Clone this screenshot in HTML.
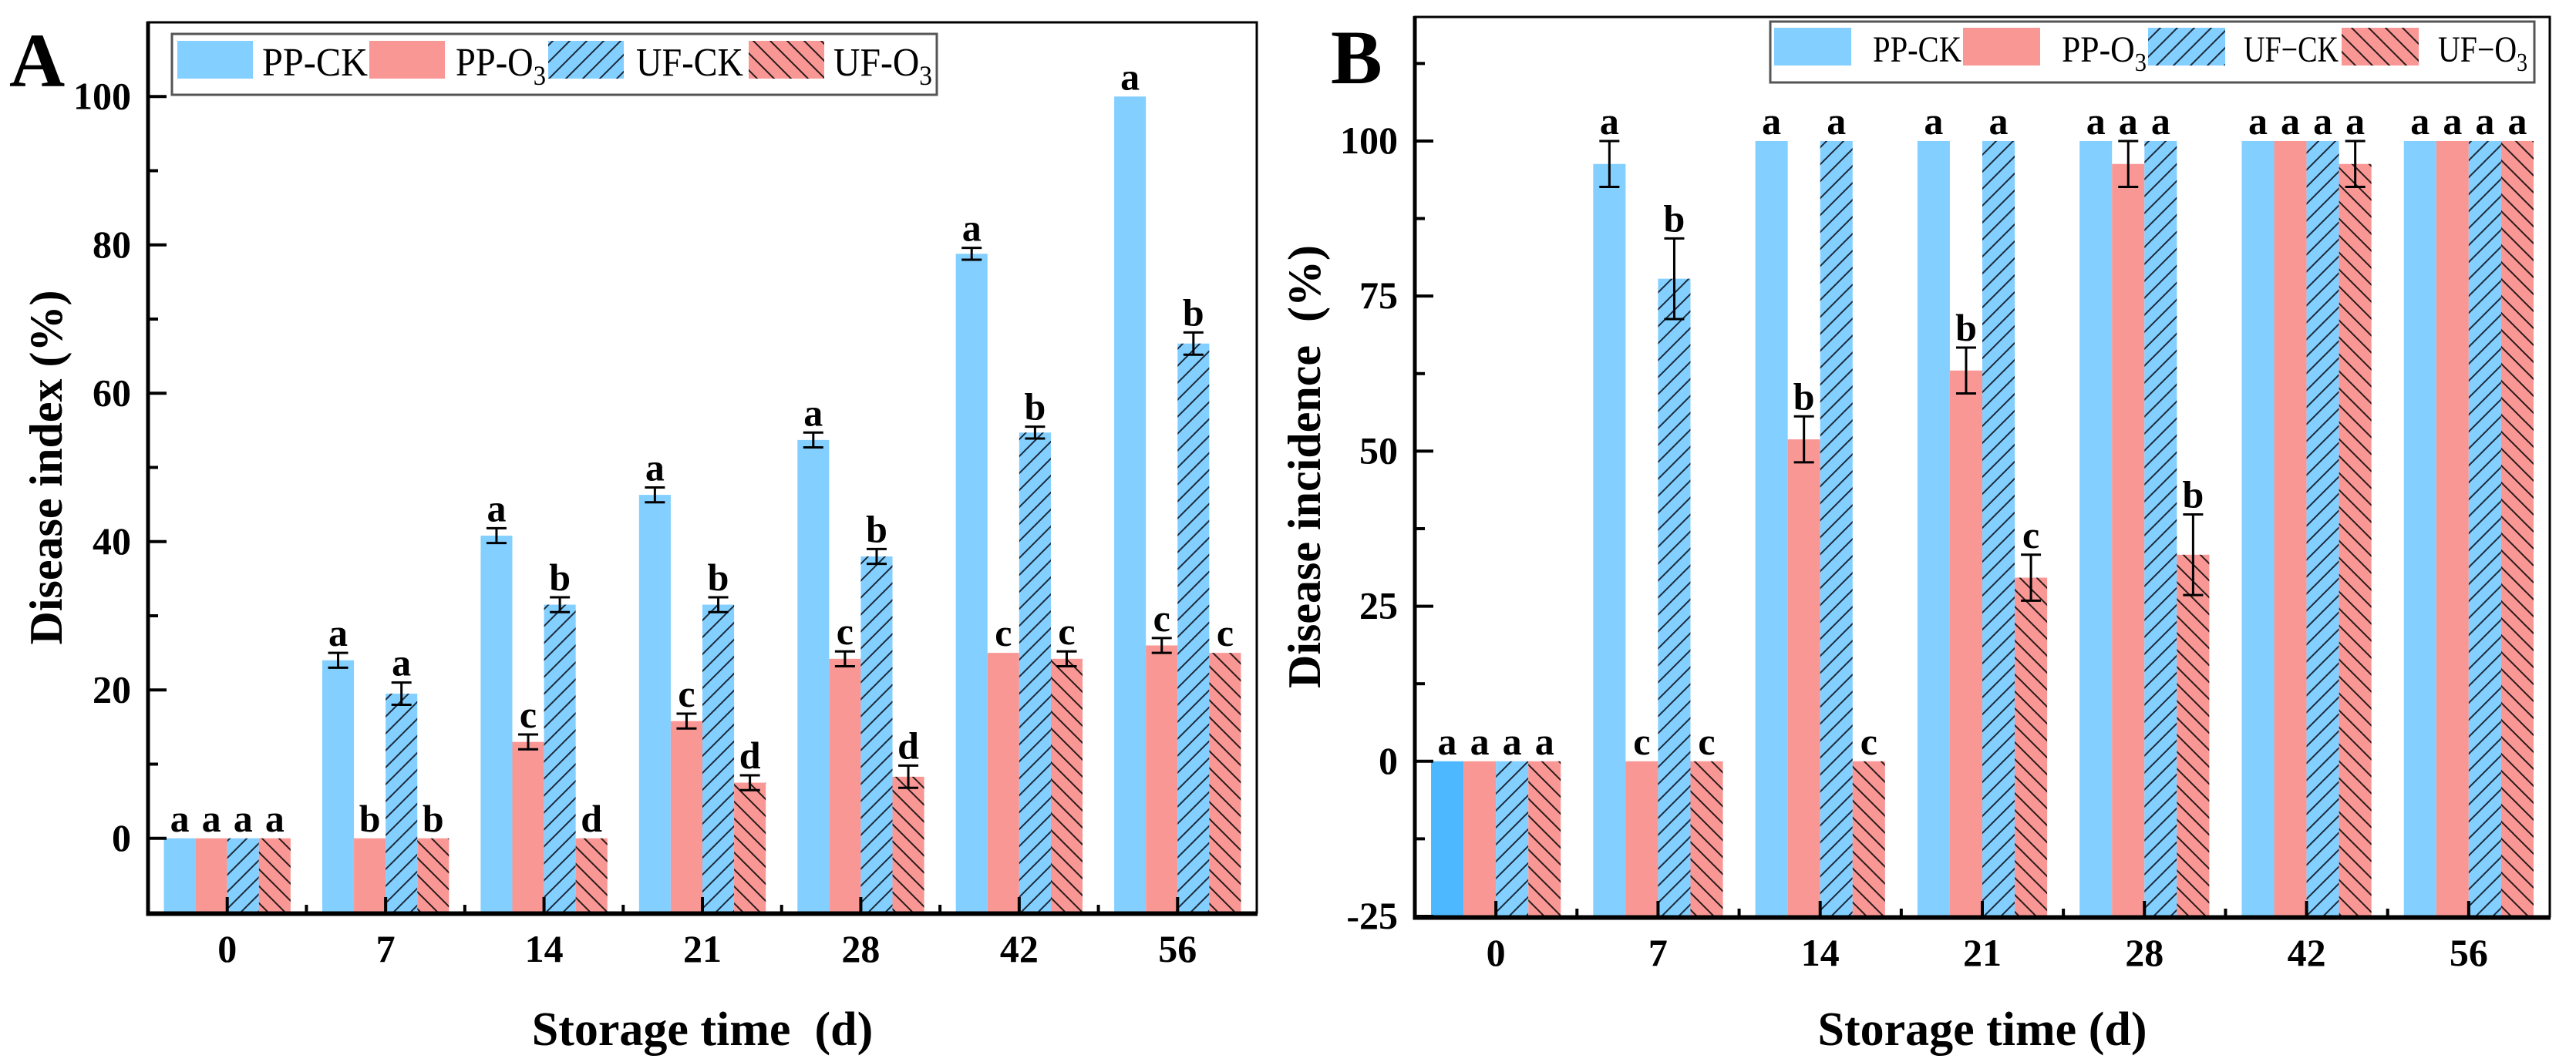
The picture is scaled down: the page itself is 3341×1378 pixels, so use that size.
<!DOCTYPE html>
<html><head><meta charset="utf-8"><style>
html,body{margin:0;padding:0;background:#fff;}
svg{display:block;font-family:"Liberation Serif",serif;}
</style></head><body>
<svg id="chart" width="3341" height="1378" viewBox="0 0 3341 1378" xmlns="http://www.w3.org/2000/svg">
<defs>
<pattern id="hatchF" patternUnits="userSpaceOnUse" width="22" height="22">
<rect width="22" height="22" fill="#83CFFF"/>
<path d="M-2,24 L24,-2 M-13,13 L13,-13 M9,35 L35,9" stroke="#1a2a3a" stroke-width="2"/>
</pattern>
<pattern id="hatchB" patternUnits="userSpaceOnUse" width="22" height="22">
<rect width="22" height="22" fill="#F99795"/>
<path d="M-2,-2 L24,24 M-13,9 L13,35 M9,-13 L35,13" stroke="#2a1a1a" stroke-width="2"/>
</pattern>
</defs>
<g id="root"></g>
</svg>
<script>
const categories = ["0","7","14","21","28","42","56"];
const seriesNames = ["PP-CK","PP-O3","UF-CK","UF-O3"];
// Panel A: disease index
const aPPCK = [0,24,40.8,46.3,53.7,78.8,100];
const aPPO3 = [0,0,13,15.8,24.2,25,26];
const aUFCK = [0,19.5,31.5,31.5,38,54.7,66.7];
const aUFO3 = [0,0,0,7.5,8.3,24.2,25];
const aErrPPCK = [0,1,1,1,1,0.8,0];
const aErrPPO3 = [0,0,1,1,1,0,1];
const aErrUFCK = [0,1.5,1,1,1,0.8,1.5];
const aErrUFO3 = [0,0,0,1,1.5,1,0];
const aLetPPCK = ["a","a","a","a","a","a","a"];
const aLetPPO3 = ["a","b","c","c","c","c","c"];
const aLetUFCK = ["a","a","b","b","b","b","b"];
const aLetUFO3 = ["a","b","d","d","d","c","c"];
const aTicks = [0,20,40,60,80,100];
// Panel B: disease incidence
const bPPCK = [0,96.3,100,100,100,100,100];
const bPPO3 = [0,0,51.9,63,96.3,100,100];
const bUFCK = [0,77.8,100,100,100,100,100];
const bUFO3 = [0,0,0,29.6,33.3,96.3,100];
const bErrPPCK = [0,3.7,0,0,0,0,0];
const bErrPPO3 = [0,0,3.7,3.7,3.7,0,0];
const bErrUFCK = [0,6.5,0,0,0,0,0];
const bErrUFO3 = [0,0,0,3.7,6.5,3.7,0];
const bLetPPCK = ["a","a","a","a","a","a","a"];
const bLetPPO3 = ["a","c","b","b","a","a","a"];
const bLetUFCK = ["a","b","a","a","a","a","a"];
const bLetUFO3 = ["a","c","c","c","b","a","a"];
const bTicks = [-25,0,25,50,75,100];

const NS="http://www.w3.org/2000/svg";
const root=document.getElementById('root');
function mk(tag,attrs,parent,text){
  const e=document.createElementNS(NS,tag);
  for(const k in attrs)e.setAttribute(k,attrs[k]);
  if(text!==undefined)e.textContent=text;
  (parent||root).appendChild(e);return e;
}
const fills=["#83CFFF","#F99795","url(#hatchF)","url(#hatchB)"];

function panel(cfg){
  const g=mk('g',{});
  
  
  const L=cfg.left,R=cfg.right,T=cfg.top,B=cfg.bottom;
  const yS=v=>B-(v-cfg.ymin)/(cfg.ymax-cfg.ymin)*(B-T);
  const band=(R-L)/categories.length;
  const xC=i=>L+band*(i+0.5);
  const bw=band*0.2;
  for(let s=0;s<4;s++){
    for(let i=0;i<categories.length;i++){
      const v=cfg.vals[s][i];
      const x=xC(i)-2*bw+s*bw;
      const y=yS(v);
      let f=fills[s];
      if(cfg.darkFirst&&s===0&&i===0)f="#4DB8FF";
      const r=mk('rect',{x:x,y:y,width:bw,height:B-y,fill:f},g);
      
      
      const e=cfg.errs[s][i];
      let top=y;
      if(e>0){
        const cx=x+bw/2,y1=yS(v+e),y2=yS(v-e);
        const eb=mk('path',{d:`M${cx-13},${y1}H${cx+13}M${cx},${y1}V${y2}M${cx-13},${y2}H${cx+13}`,stroke:'#000','stroke-width':3,fill:'none'},g);
        
        
        top=y1;
      }
      const t=mk('text',{x:x+bw/2,y:top-9,'text-anchor':'middle','font-size':50,'font-weight':'bold'},g,cfg.lets[s][i]);
      
      
    }
  }
  const fr=mk('rect',{x:L,y:T,width:R-L,height:B-T,fill:'none',stroke:'#000','stroke-width':3},g);
  
  
  mk('path',{d:`M${L},${T-1}V${B+2}H${R+1}`,stroke:'#000','stroke-width':5,fill:'none'},g);
  for(let k=0;k<cfg.ticks.length;k++){
    const v=cfg.ticks[k],y=yS(v);
    mk('path',{d:`M${L},${y}H${L+24}`,stroke:'#000','stroke-width':4},g);
    const t=mk('text',{x:L-22,y:y+16,'text-anchor':'end','font-size':50,'font-weight':'bold'},g,String(v));
    
    
  }
  const step=cfg.ticks[1]-cfg.ticks[0];
  for(let v=cfg.ticks[0]+step/2;v<cfg.ymax;v+=step){
    mk('path',{d:`M${L},${yS(v)}H${L+13}`,stroke:'#000','stroke-width':4},g);
  }
  for(let i=0;i<categories.length;i++){
    mk('path',{d:`M${xC(i)},${B}V${B-20}`,stroke:'#000','stroke-width':4},g);
    if(i>0)mk('path',{d:`M${L+band*i},${B}V${B-10}`,stroke:'#000','stroke-width':4},g);
    const t=mk('text',{x:xC(i),y:B+64,'text-anchor':'middle','font-size':50,'font-weight':'bold'},g,categories[i]);
    
    
  }
  const xt=mk('text',{x:(L+R)/2,y:1356,'text-anchor':'middle','font-size':62,'font-weight':'bold'},g,cfg.xtitle);
  
  
  const yt=mk('text',{x:0,y:0,'text-anchor':'middle','font-size':60,'font-weight':'bold',transform:`translate(${cfg.ytx},${(T+B)/2}) rotate(-90)`},g,cfg.ytitle);
  
  
  const pl=mk('text',{x:cfg.plx,y:cfg.ply,'font-size':100,'font-weight':'bold'},g,cfg.label);
  
  
  const lg=cfg.legend;
  const leg=mk('g',{},g);
  
  
  mk('rect',{x:lg.x,y:lg.y,width:lg.w,height:lg.h,fill:'#fff',stroke:'#555','stroke-width':3},leg);
  for(let s=0;s<4;s++){
    const ent=mk('g',{},leg);
    
    
    mk('rect',{x:lg.sx[s],y:lg.sy,width:lg.sw,height:lg.sh,fill:fills[s]},ent);
    const t=mk('text',{x:lg.tx[s],y:lg.ty,'font-size':lg.fs,textLength:lg.tw[s],lengthAdjust:'spacingAndGlyphs'},ent);
    const nm=cfg.legNames[s];
    if(nm.endsWith('O3')){
      mk('tspan',{},t,nm.slice(0,-1));
      mk('tspan',{'font-size':lg.fs*0.7,dy:12},t,'3');
    } else t.textContent=nm;
  }
}
panel({name:'panel-a-disease-index',label:'A',plx:12,ply:112,left:192,right:1630,top:29,bottom:1184,ymin:-10,ymax:110,
  vals:[aPPCK,aPPO3,aUFCK,aUFO3],errs:[aErrPPCK,aErrPPO3,aErrUFCK,aErrUFO3],lets:[aLetPPCK,aLetPPO3,aLetUFCK,aLetUFO3],ticks:aTicks,
  xtitle:'Storage time\u00a0\u00a0(d)',ytitle:'Disease index (%)',ytx:80,
  legNames:['PP-CK','PP-O3','UF-CK','UF-O3'],
  legend:{x:223,y:44,w:992,h:79,sx:[230,479,711,971],sy:53,sw:98,sh:49,tx:[340,591,825,1081],tw:[137,117,139,128],ty:98,fs:52}});
panel({name:'panel-b-disease-incidence',label:'B',plx:1726,ply:108,left:1835,right:3307,top:22,bottom:1189,ymin:-25,ymax:120,
  vals:[bPPCK,bPPO3,bUFCK,bUFO3],errs:[bErrPPCK,bErrPPO3,bErrUFCK,bErrUFO3],lets:[bLetPPCK,bLetPPO3,bLetUFCK,bLetUFO3],ticks:bTicks,darkFirst:true,
  xtitle:'Storage time (d)',ytitle:'Disease incidence\u00a0\u00a0(%)',ytx:1712,
  legNames:['PP-CK','PP-O3','UF−CK','UF−O3'],
  legend:{x:2296,y:28,w:991,h:79,sx:[2301,2546,2786,3037],sy:36,sw:100,sh:49,tx:[2429,2674,2910,3162],tw:[115,110,123,116],ty:80,fs:48}});
</script>
</body></html>
